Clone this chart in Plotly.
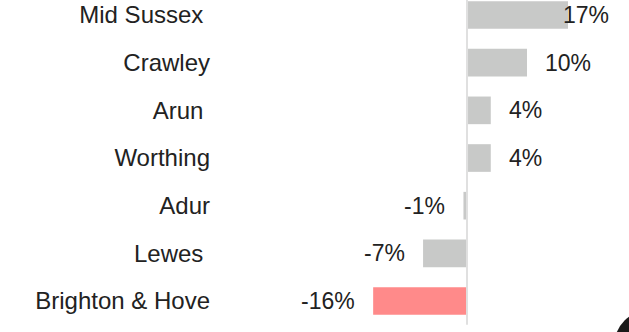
import plotly.graph_objects as go

# Percentage change by local authority (bottom row first)
areas = ["Brighton & Hove", "Lewes\u00a0", "Adur", "Worthing", "Arun\u00a0", "Crawley", "Mid Sussex\u00a0"]
change_pct = [-15.8, -7.4, -0.6, 4.0, 4.0, 10.1, 17.0]
highlight = "Brighton & Hove"

GREY = "#c8c9c8"
PINK = "#ff8a8a"
TEXT = "#222222"
FONT = "Liberation Sans, Arial, sans-serif"

W, H = 629, 332
LEFT = 211
X_RANGE = [-43.10, 27.27]
Y_RANGE = [-0.65, 6.315]
LABEL_X_MAX = 13.1  # keep value labels inside the page

colors = [PINK if a == highlight else GREY for a in areas]

fig = go.Figure(
    go.Bar(
        x=change_pct,
        y=areas,
        orientation="h",
        marker=dict(color=colors, line=dict(width=0)),
        hoverinfo="skip",
    )
)

annotations = []
for a, v in zip(areas, change_pct):
    pos = v >= 0
    annotations.append(
        dict(
            x=min(v, LABEL_X_MAX) if pos else v,
            y=a,
            xref="x",
            yref="y",
            text=f"{v:.0f}%",
            showarrow=False,
            xanchor="left" if pos else "right",
            xshift=16 if pos else -16,
            font=dict(family=FONT, size=23, color=TEXT),
        )
    )

fig.update_layout(
    width=W,
    height=H,
    margin=dict(l=LEFT, r=0, t=0, b=0),
    paper_bgcolor="white",
    plot_bgcolor="white",
    bargap=0.42,
    showlegend=False,
    annotations=annotations,
    xaxis=dict(
        range=X_RANGE,
        visible=False,
        showgrid=False,
        zeroline=False,
        fixedrange=True,
    ),
    yaxis=dict(
        type="category",
        categoryorder="array",
        categoryarray=areas,
        range=Y_RANGE,
        showgrid=False,
        zeroline=False,
        showline=False,
        ticks="",
        tickfont=dict(family=FONT, size=24, color=TEXT),
        fixedrange=True,
    ),
    shapes=[
        # zero reference line
        dict(
            type="line",
            xref="x",
            yref="y",
            x0=0,
            x1=0,
            y0=-0.5,
            y1=6.5,
            line=dict(color="#e0e0e0", width=2),
            layer="above",
        ),
        # dark round badge in the lower-right corner
        dict(
            type="circle",
            xref="paper",
            yref="paper",
            x0=0.9641,
            x1=1.1364,
            y0=-0.1506,
            y1=0.0663,
            fillcolor="#1a1a1a",
            line=dict(width=0),
        ),
    ],
)

fig.write_html("out.html", config={"displayModeBar": False})
